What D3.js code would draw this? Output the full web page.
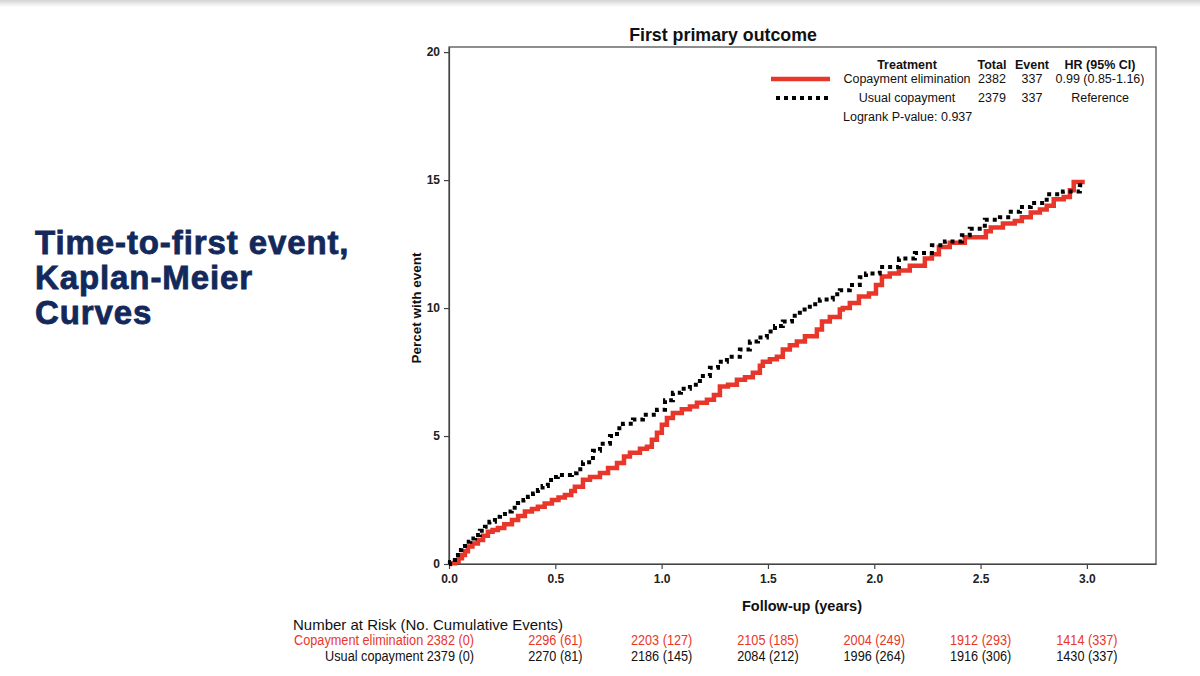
<!DOCTYPE html>
<html><head><meta charset="utf-8">
<script src="https://cdn.jsdelivr.net/npm/d3@7"></script>
<style>body{margin:0;background:#fff}svg{display:block}</style>
</head><body>
<script>
// ---- data ----
const xTicks = [0, 0.5, 1.0, 1.5, 2.0, 2.5, 3.0];
const yTicks = [0, 5, 10, 15, 20];
const copayTime = [0,0.005,0.028,0.045,0.061,0.075,0.089,0.11,0.136,0.16,0.183,0.205,0.23,0.26,0.296,0.325,0.357,0.39,0.418,0.45,0.484,0.515,0.545,0.575,0.592,0.63,0.663,0.71,0.748,0.79,0.823,0.851,0.898,0.931,0.954,0.978,1.001,1.025,1.053,1.095,1.133,1.166,1.213,1.246,1.274,1.312,1.354,1.392,1.429,1.462,1.476,1.509,1.542,1.57,1.603,1.636,1.674,1.73,1.754,1.791,1.838,1.852,1.885,1.928,1.975,2.008,2.036,2.073,2.116,2.167,2.238,2.271,2.304,2.355,2.426,2.501,2.525,2.548,2.605,2.661,2.694,2.736,2.779,2.811,2.844,2.891,2.92,2.938,2.99];
const copayPct  = [0,0.03,0.09,0.22,0.35,0.5,0.68,0.8,0.94,1.1,1.26,1.33,1.41,1.55,1.72,1.88,2.05,2.15,2.24,2.36,2.5,2.6,2.7,2.85,3.02,3.29,3.4,3.56,3.75,3.95,4.2,4.35,4.5,4.58,4.85,5.13,5.44,5.7,5.9,6.05,6.15,6.3,6.42,6.6,6.94,7.0,7.2,7.3,7.47,7.75,7.9,8.0,8.1,8.38,8.55,8.69,8.9,9.16,9.47,9.65,9.94,10.0,10.2,10.45,10.57,10.9,11.23,11.35,11.47,11.65,11.94,12.1,12.39,12.55,12.77,12.77,13.0,13.15,13.3,13.4,13.55,13.73,13.85,14.0,14.25,14.34,14.6,14.93,14.93];
const usualTime = [0,0.005,0.013,0.028,0.042,0.058,0.075,0.1,0.122,0.145,0.169,0.19,0.216,0.24,0.263,0.295,0.324,0.35,0.371,0.395,0.418,0.44,0.465,0.49,0.512,0.578,0.6,0.63,0.677,0.71,0.757,0.79,0.818,0.865,0.912,0.978,1.016,1.053,1.091,1.133,1.18,1.227,1.265,1.307,1.368,1.415,1.453,1.495,1.533,1.57,1.613,1.65,1.697,1.744,1.805,1.838,1.885,1.932,1.961,2.026,2.116,2.191,2.271,2.332,2.412,2.449,2.52,2.591,2.642,2.685,2.736,2.811,2.887,2.967,2.99];
const usualPct  = [0,0.08,0.16,0.35,0.55,0.7,0.87,1.0,1.13,1.3,1.46,1.65,1.85,1.95,2.05,2.2,2.38,2.5,2.63,2.75,2.89,3.05,3.28,3.4,3.48,3.55,3.7,3.98,4.42,4.7,5.0,5.3,5.48,5.65,5.83,6.03,6.4,6.69,6.85,7.0,7.35,7.67,7.9,8.1,8.38,8.69,8.85,9.08,9.3,9.47,9.7,9.94,10.15,10.33,10.54,10.7,10.9,11.2,11.35,11.6,11.94,12.15,12.45,12.6,12.84,13.1,13.45,13.55,13.76,13.95,14.1,14.45,14.55,14.8,14.8];
const legendHeader = ["Treatment", "Total", "Event", "HR (95% CI)"];
const legendRows = [["Copayment elimination", "2382", "337", "0.99 (0.85-1.16)"], ["Usual copayment", "2379", "337", "Reference"]];
const riskTimes = [0, 0.5, 1.0, 1.5, 2.0, 2.5, 3.0];
const riskCopay = ["2382 (0)", "2296 (61)", "2203 (127)", "2105 (185)", "2004 (249)", "1912 (293)", "1414 (337)"];
const riskUsual = ["2379 (0)", "2270 (81)", "2186 (145)", "2084 (212)", "1996 (264)", "1916 (306)", "1430 (337)"];

const RED = "#e8372a";
const W = 1200, H = 676;
const svg = d3.select("body").append("svg").attr("width", W).attr("height", H);

// top shadow
const defs = svg.append("defs");
const g0 = defs.append("linearGradient").attr("id","sh").attr("x1",0).attr("x2",0).attr("y1",0).attr("y2",1);
g0.append("stop").attr("offset","0%").attr("stop-color","#d4d4d4");
g0.append("stop").attr("offset","100%").attr("stop-color","#ffffff");
svg.append("rect").attr("x",0).attr("y",0).attr("width",W).attr("height",7).attr("fill","url(#sh)");

// side title
const side = svg.append("text").attr("font-family","Liberation Sans, Arial, sans-serif").attr("font-weight","bold")
  .attr("font-size",33).attr("letter-spacing","0.9px").attr("fill","#13285b").attr("stroke","#13285b").attr("stroke-width",0.8);
["Time-to-first event,", "Kaplan-Meier", "Curves"].forEach((t,i)=>{
  side.append("tspan").attr("x",35).attr("y",254 + i*35).text(t);
});

const L = 449, R = 1156, T = 47, B = 564;
const x = d3.scaleLinear().domain([0, 3.325]).range([L, R]);
const y = d3.scaleLinear().domain([0, 20.2]).range([B, T]);

const FONT = "Liberation Sans, Arial, sans-serif";

// title
svg.append("text").attr("x",723).attr("y",41).attr("text-anchor","middle").attr("font-family",FONT)
  .attr("font-weight","bold").attr("font-size",17.8).attr("fill","#111").text("First primary outcome");

// frame
svg.append("rect").attr("x",L).attr("y",T).attr("width",R-L).attr("height",B-T).attr("fill","none").attr("stroke","#444").attr("stroke-width",1.2);

// axes
const xAxis = svg.append("g").attr("transform",`translate(0,${B})`)
  .call(d3.axisBottom(x).tickValues(xTicks).tickFormat(d3.format(".1f")).tickSize(5).tickSizeOuter(0));
const yAxis = svg.append("g").attr("transform",`translate(${L},0)`)
  .call(d3.axisLeft(y).tickValues(yTicks).tickFormat(d3.format("d")).tickSize(5).tickSizeOuter(0));
[xAxis, yAxis].forEach(a=>{
  a.select(".domain").attr("stroke","#444").attr("stroke-width",1.2);
  a.selectAll(".tick line").attr("stroke","#444").attr("stroke-width",1.2);
  a.selectAll(".tick text").attr("font-family",FONT).attr("font-weight","bold").attr("font-size",12).attr("fill","#222");
});
xAxis.selectAll(".tick text").attr("dy","0.95em");
yAxis.selectAll(".tick text").attr("dx","-1px");

// axis titles
svg.append("text").attr("x",802).attr("y",611).attr("text-anchor","middle").attr("font-family",FONT)
  .attr("font-weight","bold").attr("font-size",14.5).attr("fill","#111").text("Follow-up (years)");
svg.append("text").attr("transform","translate(421,308) rotate(-90)").attr("text-anchor","middle").attr("font-family",FONT)
  .attr("font-weight","bold").attr("font-size",13.5).attr("fill","#111").text("Percet with event");

// curves
const line = d3.line().x(d=>x(d[0])).y(d=>y(d[1])).curve(d3.curveStepAfter);
const copay = copayTime.map((t,i)=>[t, copayPct[i]]);
const usual = usualTime.map((t,i)=>[t, usualPct[i]]);
svg.append("path").datum(copay).attr("d",line).attr("fill","none").attr("stroke",RED).attr("stroke-width",4.5);
svg.append("path").datum(usual).attr("d",line).attr("fill","none").attr("stroke","#000").attr("stroke-width",4).attr("stroke-dasharray","4,4");

// legend
const lg = svg.append("g").attr("font-family",FONT).attr("font-size",12.5).attr("fill","#111");
const colX = [907, 992, 1032, 1100];
legendHeader.forEach((h,i)=>lg.append("text").attr("x",colX[i]).attr("y",69).attr("text-anchor","middle").attr("font-weight","bold").text(h));
legendRows.forEach((row,r)=>row.forEach((v,i)=>lg.append("text").attr("x",colX[i]).attr("y",83+r*19).attr("text-anchor","middle").text(v)));
lg.append("text").attr("x",843).attr("y",121).text("Logrank P-value: 0.937");
svg.append("line").attr("x1",771).attr("x2",830).attr("y1",79).attr("y2",79).attr("stroke",RED).attr("stroke-width",4.5);
svg.append("line").attr("x1",776).attr("x2",828).attr("y1",98).attr("y2",98).attr("stroke","#000").attr("stroke-width",4).attr("stroke-dasharray","4,4");

// risk table
const rt = svg.append("g").attr("fill","#111").attr("font-family",FONT);
rt.append("text").attr("x",293).attr("y",630).attr("font-size",15).text("Number at Risk (No. Cumulative Events)");
const rows = [{lab:"Copayment elimination", vals:riskCopay, col:RED}, {lab:"Usual copayment", vals:riskUsual, col:"#111"}];
const SX = 0.82;
rows.forEach((row,r)=>{
  const yy = 645 + r*15.5;
  rt.append("text").attr("transform",`translate(474,${yy}) scale(${SX},1)`).attr("text-anchor","end").attr("font-size",15.5)
    .attr("fill",row.col).text(row.lab + " " + row.vals[0]);
  row.vals.slice(1).forEach((v,i)=>{
    rt.append("text").attr("transform",`translate(${x(riskTimes[i+1])},${yy}) scale(${SX},1)`).attr("text-anchor","middle").attr("font-size",15.5)
      .attr("fill",row.col).text(v);
  });
});
</script>
</body></html>
